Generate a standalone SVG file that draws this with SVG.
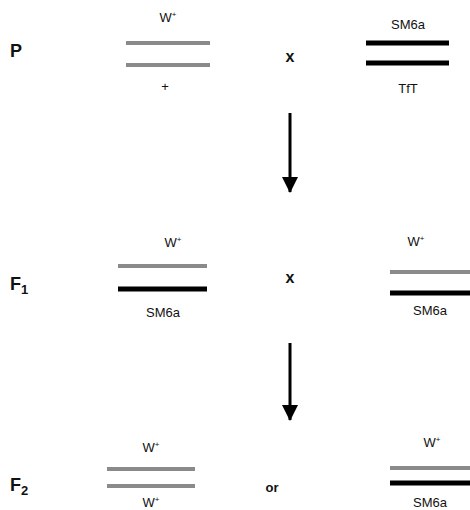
<svg xmlns="http://www.w3.org/2000/svg" width="470" height="510" viewBox="0 0 470 510">
<style>
.lbl{font-family:"Liberation Sans",Arial,sans-serif;font-size:13px;fill:#111;text-anchor:middle}
.gen{font-family:"Liberation Sans",Arial,sans-serif;font-size:18px;font-weight:bold;fill:#111}
.x{font-family:"Liberation Sans",Arial,sans-serif;font-size:16px;font-weight:bold;fill:#111;text-anchor:middle}
.g{stroke:#8a8a8a;stroke-width:4}
.b{stroke:#000;stroke-width:5}
.sup{font-size:8px}
</style>
<defs>
<marker id="ah" markerWidth="16" markerHeight="16" refX="15" refY="8" orient="auto" markerUnits="userSpaceOnUse" viewBox="0 0 16 16">
<path d="M0,0 L16,8 L0,16 z" fill="#000"/>
</marker>
</defs>
<rect width="470" height="510" fill="#fff"/>
<g id="gen-P"><text class="gen" x="10" y="57">P</text></g>
<g id="P-female">
<text class="lbl" x="168" y="22">W<tspan class="sup" dy="-5">+</tspan></text>
<line class="g" x1="126" y1="43" x2="210" y2="43"/>
<line class="g" x1="126" y1="65" x2="210" y2="65"/>
<text class="lbl" x="165" y="91">+</text>
</g>
<g id="P-cross"><text class="x" x="290" y="62">x</text></g>
<g id="P-male">
<text class="lbl" x="408" y="29">SM6a</text>
<line class="b" x1="366" y1="43" x2="449" y2="43"/>
<line class="b" x1="366" y1="63" x2="449" y2="63"/>
<text class="lbl" x="408" y="93">TfT</text>
</g>
<g id="gen-F1"><text class="gen" x="10" y="290">F<tspan font-size="13" dy="4">1</tspan></text></g>
<g id="F1-left">
<text class="lbl" x="173" y="247">W<tspan class="sup" dy="-5">+</tspan></text>
<line class="g" x1="118" y1="266" x2="207" y2="266"/>
<line class="b" x1="118" y1="289" x2="207" y2="289"/>
<text class="lbl" x="163" y="317">SM6a</text>
</g>
<g id="F1-cross"><text class="x" x="290" y="283">x</text></g>
<g id="F1-right">
<text class="lbl" x="416" y="246">W<tspan class="sup" dy="-5">+</tspan></text>
<line class="g" x1="390" y1="272" x2="472" y2="272"/>
<line class="b" x1="390" y1="293" x2="472" y2="293"/>
<text class="lbl" x="430" y="315">SM6a</text>
</g>
<g id="gen-F2"><text class="gen" x="10" y="491">F<tspan font-size="13" dy="4">2</tspan></text></g>
<g id="F2-left">
<text class="lbl" x="151" y="452">W<tspan class="sup" dy="-5">+</tspan></text>
<line class="g" x1="107" y1="469" x2="195" y2="469"/>
<line class="g" x1="107" y1="486" x2="195" y2="486"/>
<text class="lbl" x="151" y="507">W<tspan class="sup" dy="-5">+</tspan></text>
</g>
<g id="F2-or"><text class="x" x="272" y="492" style="font-size:13px">or</text></g>
<g id="F2-right">
<text class="lbl" x="432" y="447">W<tspan class="sup" dy="-5">+</tspan></text>
<line class="g" x1="390" y1="468" x2="472" y2="468"/>
<line class="b" x1="390" y1="483" x2="472" y2="483"/>
<text class="lbl" x="430" y="507">SM6a</text>
</g>
<g id="connectors">
<line x1="290" y1="113" x2="290" y2="192" stroke="#000" stroke-width="3" marker-end="url(#ah)"/>
<line x1="290" y1="343" x2="290" y2="420" stroke="#000" stroke-width="3" marker-end="url(#ah)"/>
</g>
</svg>
